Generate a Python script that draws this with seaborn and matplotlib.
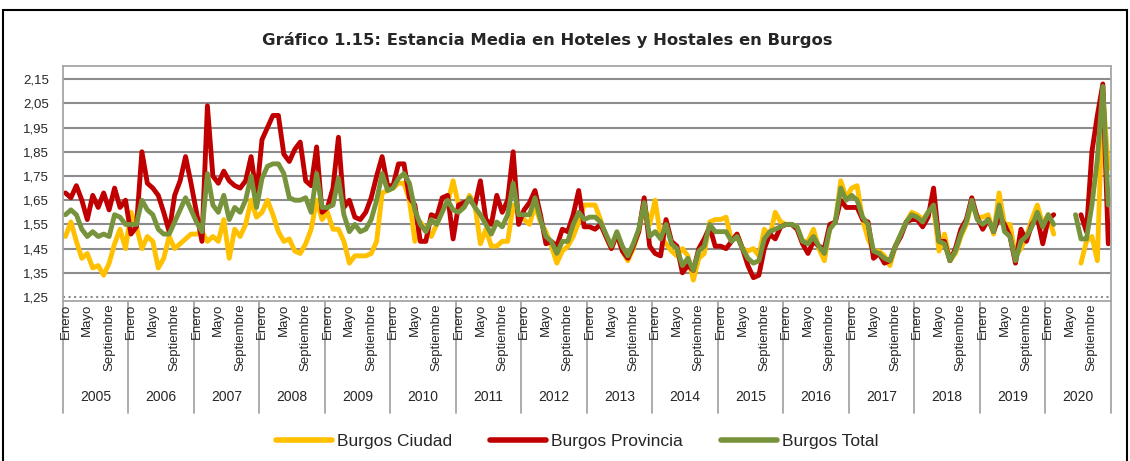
import numpy as np
import pandas as pd
import matplotlib
matplotlib.use("Agg")
import matplotlib.pyplot as plt
import matplotlib.transforms as mtransforms
from matplotlib.patches import Rectangle
from matplotlib.lines import Line2D
import seaborn as sns

nan = np.nan

years = list(range(2005, 2021))
month_labels = {0: "Enero", 4: "Mayo", 8: "Septiembre"}
series_names = ["Burgos Ciudad", "Burgos Provincia", "Burgos Total"]
colors = ["#FFC000", "#C00000", "#77933C"]

# monthly values, one row per year (Jan..Dec)
ciudad = [
    1.50, 1.56, 1.48, 1.41, 1.43, 1.37, 1.38, 1.34, 1.39, 1.47, 1.53, 1.45,
    1.60, 1.54, 1.45, 1.50, 1.48, 1.37, 1.41, 1.50, 1.45, 1.47, 1.49, 1.51,
    1.51, 1.52, 1.48, 1.50, 1.48, 1.57, 1.41, 1.53, 1.50, 1.55, 1.65, 1.58,
    1.60, 1.65, 1.59, 1.52, 1.48, 1.49, 1.44, 1.43, 1.47, 1.53, 1.65, 1.57,
    1.60, 1.53, 1.53, 1.48, 1.39, 1.42, 1.42, 1.42, 1.43, 1.48, 1.68, 1.69,
    1.70, 1.72, 1.72, 1.65, 1.48, 1.56, 1.53, 1.50, 1.55, 1.61, 1.64, 1.73,
    1.63, 1.62, 1.67, 1.63, 1.47, 1.53, 1.46, 1.46, 1.48, 1.48, 1.63, 1.59,
    1.57, 1.55, 1.63, 1.56, 1.52, 1.46, 1.39, 1.44, 1.46, 1.50, 1.56, 1.63,
    1.63, 1.63, 1.57, 1.50, 1.45, 1.51, 1.44, 1.40, 1.45, 1.52, 1.63, 1.55,
    1.65, 1.50, 1.47, 1.44, 1.42, 1.45, 1.42, 1.32, 1.41, 1.43, 1.56, 1.57,
    1.57, 1.58, 1.48, 1.51, 1.45, 1.44, 1.45, 1.42, 1.53, 1.50, 1.60, 1.56,
    1.55, 1.55, 1.54, 1.48, 1.48, 1.53, 1.45, 1.40, 1.54, 1.56, 1.73, 1.66,
    1.70, 1.71, 1.57, 1.49, 1.44, 1.44, 1.42, 1.38, 1.46, 1.51, 1.56, 1.60,
    1.59, 1.57, 1.60, 1.62, 1.44, 1.51, 1.40, 1.43, 1.50, 1.55, 1.64, 1.58,
    1.58, 1.59, 1.51, 1.68, 1.55, 1.55, 1.42, 1.45, 1.50, 1.57, 1.63, 1.55,
    1.59, 1.51, nan, nan, nan, nan, 1.39, 1.48, 1.50, 1.40, 2.10, 1.78,
]
provincia = [
    1.68, 1.66, 1.71, 1.65, 1.57, 1.67, 1.62, 1.68, 1.61, 1.70, 1.62, 1.65,
    1.51, 1.54, 1.85, 1.72, 1.70, 1.67, 1.60, 1.52, 1.67, 1.73, 1.83, 1.72,
    1.60, 1.48, 2.04, 1.75, 1.72, 1.77, 1.73, 1.71, 1.70, 1.73, 1.83, 1.67,
    1.90, 1.95, 2.00, 2.00, 1.84, 1.81, 1.86, 1.89, 1.73, 1.71, 1.87, 1.60,
    1.62, 1.70, 1.91, 1.62, 1.65, 1.58, 1.57, 1.60, 1.66, 1.75, 1.83, 1.71,
    1.71, 1.80, 1.80, 1.66, 1.63, 1.48, 1.48, 1.59, 1.58, 1.66, 1.67, 1.49,
    1.63, 1.64, 1.65, 1.63, 1.73, 1.57, 1.55, 1.67, 1.60, 1.65, 1.85, 1.55,
    1.61, 1.64, 1.69, 1.59, 1.47, 1.48, 1.46, 1.53, 1.52, 1.59, 1.69, 1.54,
    1.54, 1.53, 1.55, 1.50, 1.45, 1.51, 1.44, 1.41, 1.46, 1.52, 1.66, 1.46,
    1.43, 1.42, 1.57, 1.48, 1.46, 1.35, 1.38, 1.36, 1.45, 1.49, 1.54, 1.46,
    1.46, 1.45, 1.48, 1.51, 1.45, 1.38, 1.33, 1.34, 1.45, 1.51, 1.49, 1.54,
    1.55, 1.55, 1.53, 1.47, 1.43, 1.48, 1.46, 1.45, 1.55, 1.56, 1.65, 1.62,
    1.62, 1.62, 1.57, 1.56, 1.41, 1.43, 1.39, 1.40, 1.46, 1.50, 1.56, 1.57,
    1.57, 1.54, 1.58, 1.70, 1.48, 1.48, 1.40, 1.45, 1.53, 1.57, 1.66, 1.58,
    1.53, 1.57, 1.52, 1.58, 1.55, 1.50, 1.39, 1.53, 1.48, 1.55, 1.58, 1.47,
    1.57, 1.59, nan, nan, nan, nan, 1.59, 1.52, 1.85, 2.00, 2.13, 1.47,
]
total = [
    1.59, 1.61, 1.59, 1.53, 1.50, 1.52, 1.50, 1.51, 1.50, 1.59, 1.58, 1.55,
    1.55, 1.55, 1.65, 1.61, 1.59, 1.53, 1.51, 1.51, 1.56, 1.61, 1.66, 1.61,
    1.56, 1.52, 1.76, 1.63, 1.60, 1.67, 1.57, 1.62, 1.60, 1.65, 1.75, 1.62,
    1.74, 1.79, 1.80, 1.80, 1.76, 1.66, 1.65, 1.65, 1.66, 1.60, 1.76, 1.62,
    1.62, 1.63, 1.74, 1.59, 1.52, 1.55, 1.52, 1.53, 1.57, 1.65, 1.76, 1.69,
    1.70, 1.74, 1.76, 1.72, 1.61, 1.55, 1.52, 1.57, 1.55, 1.60, 1.65, 1.61,
    1.60, 1.62, 1.66, 1.62, 1.59, 1.55, 1.51, 1.56, 1.54, 1.59, 1.72, 1.59,
    1.59, 1.59, 1.66, 1.57, 1.50, 1.48, 1.43, 1.48, 1.48, 1.55, 1.60, 1.57,
    1.58, 1.58, 1.56, 1.51, 1.46, 1.52, 1.46, 1.42, 1.47, 1.53, 1.64, 1.50,
    1.52, 1.49, 1.55, 1.47, 1.45, 1.38, 1.41, 1.36, 1.44, 1.46, 1.55, 1.52,
    1.52, 1.52, 1.48, 1.50, 1.45, 1.41, 1.39, 1.40, 1.49, 1.52, 1.53, 1.54,
    1.55, 1.55, 1.54, 1.48, 1.47, 1.50, 1.46, 1.43, 1.53, 1.56, 1.70, 1.65,
    1.67, 1.65, 1.58, 1.55, 1.44, 1.43, 1.41, 1.40, 1.46, 1.51, 1.56, 1.59,
    1.58, 1.56, 1.60, 1.63, 1.48, 1.47, 1.40, 1.44, 1.51, 1.56, 1.65, 1.57,
    1.55, 1.57, 1.52, 1.63, 1.52, 1.50, 1.40, 1.48, 1.50, 1.54, 1.60, 1.54,
    1.59, 1.55, nan, nan, nan, 1.59, 1.49, 1.49, 1.63, 1.82, 2.12, 1.63,
]

yticks = [1.25, 1.35, 1.45, 1.55, 1.65, 1.75, 1.85, 1.95, 2.05, 2.15]

# long-form table; 'tramo' splits each line where data is missing
frames = []
for name, vals in zip(series_names, [ciudad, provincia, total]):
    d = pd.DataFrame({"mes": np.arange(len(vals)), "valor": vals, "serie": name})
    d["tramo"] = d["valor"].isna().cumsum()
    frames.append(d.dropna())
df = pd.concat(frames, ignore_index=True)

sns.set_style("white")
plt.rcParams["font.family"] = ["Liberation Sans Narrow", "Liberation Sans", "DejaVu Sans"]

fig = plt.figure(figsize=(11.3, 4.61), dpi=100)
ax = fig.add_axes([0.0555, 0.347, 0.9277, 0.5097])

grid_color = "#8C8C8C"
for v in yticks:
    ax.axhline(v, color=grid_color, lw=1.5, ls=":" if v == yticks[0] else "-", zorder=0)

sns.lineplot(data=df, x="mes", y="valor", hue="serie", units="tramo", estimator=None,
             palette=dict(zip(series_names, colors)), hue_order=series_names,
             linewidth=3.5, ax=ax, legend=False)

n = len(ciudad)
ax.set_xlim(-0.5, n - 0.5)
ax.set_ylim(1.2335, 2.204)
ax.set_yticks(yticks)
ax.set_yticklabels([f"{v:.2f}".replace(".", ",") for v in yticks], fontsize=9.5)
ax.set_xticks([])
ax.set_xlabel("")
ax.set_ylabel("")
ax.tick_params(axis="y", length=0, pad=10)
for s in ax.spines.values():
    s.set_color("#A6A6A6")
    s.set_linewidth(1.3)

# two-level category axis: months and years
trans = mtransforms.blended_transform_factory(ax.transData, ax.transAxes)
for k, yr in enumerate(years):
    start = 12 * k
    for m, lab in month_labels.items():
        ax.annotate(lab, xy=(start + m, 0), xycoords=trans, xytext=(0, -2),
                    textcoords="offset points", rotation=90, ha="center", va="top",
                    fontsize=9.5)
    ax.text(start + 5.5, -0.41, str(yr), transform=trans, ha="center", va="center",
            fontsize=10)
for k in range(len(years) + 1):
    ax.plot([12 * k - 0.5] * 2, [0, -0.475], transform=trans, color="#A6A6A6",
            lw=1.3, clip_on=False)

fig.text(0.484, 0.913, "Gráfico 1.15: Estancia Media en Hoteles y Hostales en Burgos",
         ha="center", va="center", fontsize=11.8, fontweight="bold", family="DejaVu Sans")

handles = [Line2D([], [], color=c, lw=4) for c in colors]
fig.legend(handles, series_names, loc="center", bbox_to_anchor=(0.511, 0.043), ncol=3,
           frameon=False, fontsize=12.5, handlelength=3.2, handletextpad=0.3,
           columnspacing=2.2)

fig.patches.append(Rectangle((3 / 1130, -0.1), 1124 / 1130, 1.1 - 10 / 461,
                             transform=fig.transFigure, fill=False, edgecolor="black",
                             lw=1.5, clip_on=False))

fig.savefig("out.png", dpi=100)
